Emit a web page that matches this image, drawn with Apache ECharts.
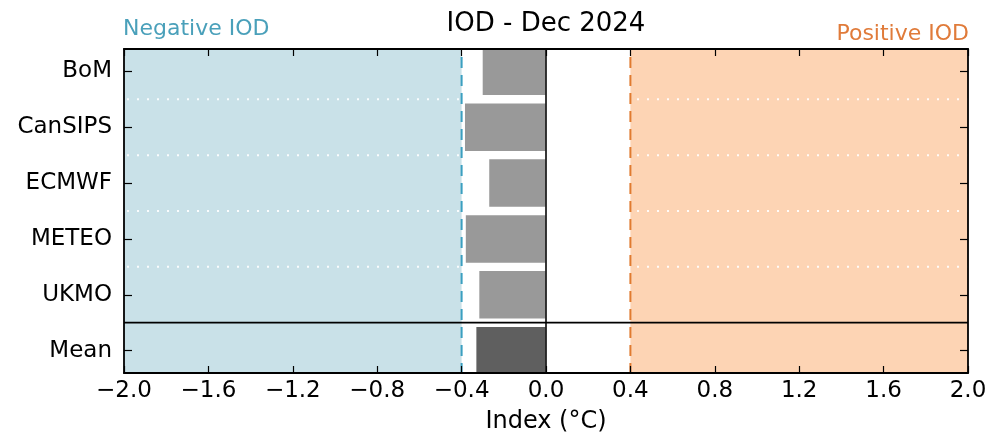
<!DOCTYPE html>
<html><head><meta charset="utf-8">
<script src="https://cdn.jsdelivr.net/npm/echarts@6/dist/echarts.min.js"></script>
<style>html,body{margin:0;padding:0;background:#fff}#c{width:990px;height:439px}</style>
</head><body><div id="c"></div>
<script>
const models = ['BoM', 'CanSIPS', 'ECMWF', 'METEO', 'UKMO', 'Mean'];
const values = [-0.30, -0.384, -0.269, -0.38, -0.316, -0.33];
const xTickMin = -2.0, xTickMax = 2.0, xTickStep = 0.4;
const negativeRange = [-2.0, -0.4];
const positiveRange = [0.4, 2.0];
const thresholds = [-0.4, 0.4];
const separators = [0.5, 1.5, 2.5, 3.5];
const meanSeparator = 4.5;
const titleText = 'IOD - Dec 2024';
const negLabel = 'Negative IOD';
const posLabel = 'Positive IOD';
const xName = 'Index (°C)';

const FONT = 'DejaVu Sans';
const rowIdx = models.map((m, i) => i);

function fmtX(v) {
  if (Math.abs(v) < 1e-9) v = 0;
  const s = v.toFixed(1);
  return s.replace('-', '\u2212');
}

function clip(shape, params) {
  const cs = params.coordSys;
  return echarts.graphic.clipRectByRect(shape, { x: cs.x, y: cs.y, width: cs.width, height: cs.height });
}

const chart = echarts.init(document.getElementById('c'), null, { renderer: 'canvas' });

const axisLineStyle = { color: '#000', width: 1.8 };
const option = {
  backgroundColor: '#fff',
  animation: false,
  title: [
    { text: titleText, left: 546, textAlign: 'center', top: 11, padding: 0,
      textStyle: { fontFamily: FONT, fontSize: 26, fontWeight: 'normal', color: '#000' } },
    { text: negLabel, left: 123, top: 18, padding: 0,
      textStyle: { fontFamily: FONT, fontSize: 22, fontWeight: 'normal', color: '#4aa0ba' } },
    { text: posLabel, right: 21, top: 23, padding: 0,
      textStyle: { fontFamily: FONT, fontSize: 22, fontWeight: 'normal', color: '#e07b3a' } }
  ],
  grid: { left: 124, right: 22, top: 49, bottom: 61, containLabel: false },
  xAxis: [
    { type: 'value', min: xTickMin, max: xTickMax, interval: xTickStep, position: 'bottom', z: 10,
      axisLine: { show: true, onZero: false, lineStyle: axisLineStyle },
      axisTick: { show: true, inside: true, length: 7, lineStyle: { color: '#000', width: 1.2 } },
      axisLabel: { formatter: fmtX, fontFamily: FONT, fontSize: 23, color: '#000', margin: 7, showMinLabel: true, showMaxLabel: true },
      splitLine: { show: false },
      name: xName, nameLocation: 'middle', nameGap: 37,
      nameTextStyle: { fontFamily: FONT, fontSize: 24, color: '#000' } },
    { type: 'value', min: xTickMin, max: xTickMax, interval: xTickStep, position: 'top', z: 10,
      axisLine: { show: true, onZero: false, lineStyle: axisLineStyle },
      axisTick: { show: true, inside: true, length: 7, lineStyle: { color: '#000', width: 1.2 } },
      axisLabel: { show: false }, splitLine: { show: false } }
  ],
  yAxis: [
    { type: 'value', min: -0.4, max: 5.4, inverse: true, position: 'left', z: 10,
      axisLine: { show: true, onZero: false, lineStyle: axisLineStyle },
      axisTick: { show: true, inside: true, length: 8, customValues: rowIdx, lineStyle: { color: '#000', width: 1.2 } },
      axisLabel: { customValues: rowIdx, formatter: v => models[Math.round(v)], fontFamily: FONT, fontSize: 23, color: '#000', margin: 12 },
      splitLine: { show: false } },
    { type: 'value', min: -0.4, max: 5.4, inverse: true, position: 'right', z: 10,
      axisLine: { show: true, onZero: false, lineStyle: axisLineStyle },
      axisTick: { show: true, inside: true, length: 8, customValues: rowIdx, lineStyle: { color: '#000', width: 1.2 } },
      axisLabel: { show: false }, splitLine: { show: false } }
  ],
  series: [
    { type: 'custom', name: 'regions', z: 1, silent: true,
      data: [[negativeRange[0], negativeRange[1], 0], [positiveRange[0], positiveRange[1], 1]],
      renderItem: (params, api) => {
        const cs = params.coordSys;
        const a = api.coord([api.value(0), 0])[0];
        const b = api.coord([api.value(1), 0])[0];
        return { type: 'rect', shape: { x: a, y: cs.y, width: b - a, height: cs.height },
          style: { fill: api.value(2) === 0 ? '#c9e1e8' : '#fdd4b4' } };
      } },
    { type: 'custom', name: 'dotted', z: 2, silent: true,
      data: separators.map(s => [s]),
      renderItem: (params, api) => {
        const cs = params.coordSys;
        const y = api.coord([0, api.value(0)])[1];
        return { type: 'line', shape: { x1: cs.x + 3, y1: y, x2: cs.x + cs.width, y2: y },
          style: { stroke: '#ffffff', lineWidth: 2, lineDash: [2, 8], opacity: 0.9 } };
      } },
    { type: 'custom', name: 'bars', z: 3, silent: true,
      data: values.map((v, i) => [v, i]),
      renderItem: (params, api) => {
        const v = api.value(0), i = api.value(1);
        const p1 = api.coord([v, i - 0.425]);
        const p2 = api.coord([0, i + 0.425]);
        const shape = clip({ x: Math.min(p1[0], p2[0]), y: Math.min(p1[1], p2[1]),
          width: Math.abs(p2[0] - p1[0]), height: Math.abs(p2[1] - p1[1]) }, params);
        return { type: 'rect', shape: shape,
          style: { fill: i === models.length - 1 ? '#5f5f5f' : '#999999' } };
      } },
    { type: 'custom', name: 'thresholds', z: 4, silent: true,
      data: thresholds.map((t, k) => [t, k]),
      renderItem: (params, api) => {
        const cs = params.coordSys;
        const x = api.coord([api.value(0), 0])[0];
        return { type: 'line', shape: { x1: x, y1: cs.y + 8, x2: x, y2: cs.y + cs.height },
          style: { stroke: api.value(1) === 0 ? '#3a9fc0' : '#e07b30', lineWidth: 2, lineDash: [11, 7] } };
      } },
    { type: 'custom', name: 'zero', z: 5, silent: true,
      data: [[0]],
      renderItem: (params, api) => {
        const cs = params.coordSys;
        const x = api.coord([api.value(0), 0])[0];
        return { type: 'line', shape: { x1: x, y1: cs.y, x2: x, y2: cs.y + cs.height },
          style: { stroke: '#222', lineWidth: 1.8 } };
      } },
    { type: 'custom', name: 'meanSep', z: 5, silent: true,
      data: [[meanSeparator]],
      renderItem: (params, api) => {
        const cs = params.coordSys;
        const y = api.coord([0, api.value(0)])[1];
        return { type: 'line', shape: { x1: cs.x, y1: y, x2: cs.x + cs.width, y2: y },
          style: { stroke: '#000', lineWidth: 1.8 } };
      } }
  ]
};
chart.setOption(option);
</script>
</body></html>
